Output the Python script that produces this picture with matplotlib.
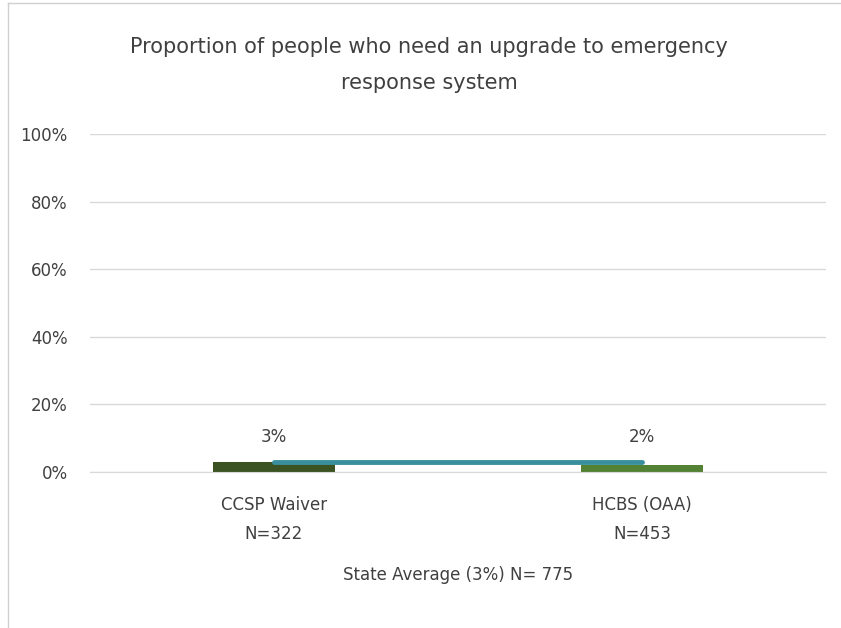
import matplotlib
matplotlib.use("Agg")
import matplotlib.pyplot as plt
from matplotlib.lines import Line2D
from matplotlib.ticker import PercentFormatter

plt.rcParams['font.family'] = ['Liberation Sans Narrow', 'DejaVu Sans']

categories = ["CCSP Waiver\nN=322", "HCBS (OAA)\nN=453"]
values = [0.03, 0.02]
value_labels = ["3%", "2%"]
state_avg = [0.03, 0.03]
bar_colors = ["#3B5323", "#548235"]

fig = plt.figure(figsize=(8.41, 6.28), dpi=100)
ax = fig.add_axes([90 / 841, 1 - 472 / 628, 736 / 841, 338 / 628])

x = [0, 1]
ax.bar(x, values, width=0.33, color=bar_colors, zorder=2)
ax.plot(x, state_avg, color="#3A8F9E", linewidth=3.5, solid_capstyle="round", zorder=3)
for xi, lab in zip(x, value_labels):
    ax.text(xi, 0.104, lab, ha="center", va="center", fontsize=12, color="#404040")

ax.set_xlim(-0.5, 1.5)
ax.set_ylim(0, 1.0)
ax.set_yticks([0, 0.2, 0.4, 0.6, 0.8, 1.0])
ax.yaxis.set_major_formatter(PercentFormatter(1.0, decimals=0))
ax.set_xticks(x)
ax.set_xticklabels(categories, fontsize=12, color="#404040", linespacing=1.8)
ax.tick_params(axis="y", length=0, labelsize=12, labelcolor="#404040", pad=16)
ax.tick_params(axis="x", length=0, pad=17)
ax.grid(axis="y", color="#D9D9D9", linewidth=1, zorder=0)
for s in ["top", "right", "left"]:
    ax.spines[s].set_visible(False)
ax.spines["bottom"].set_color("#D9D9D9")
ax.set_xlabel("State Average (3%) N= 775", fontsize=12, color="#404040", labelpad=17)

fig.text(0.51, 1 - 47 / 628, "Proportion of people who need an upgrade to emergency",
         ha="center", va="center", fontsize=15, color="#404040")
fig.text(0.51, 1 - 83 / 628, "response system",
         ha="center", va="center", fontsize=15, color="#404040")

# chart frame edges
fig.add_artist(Line2D([8 / 841, 8 / 841], [0, 1 - 3 / 628], transform=fig.transFigure, color="#D0D0D0", linewidth=1))
fig.add_artist(Line2D([8 / 841, 1], [1 - 3 / 628, 1 - 3 / 628], transform=fig.transFigure, color="#D0D0D0", linewidth=1))

fig.savefig("out.png", dpi=100)
